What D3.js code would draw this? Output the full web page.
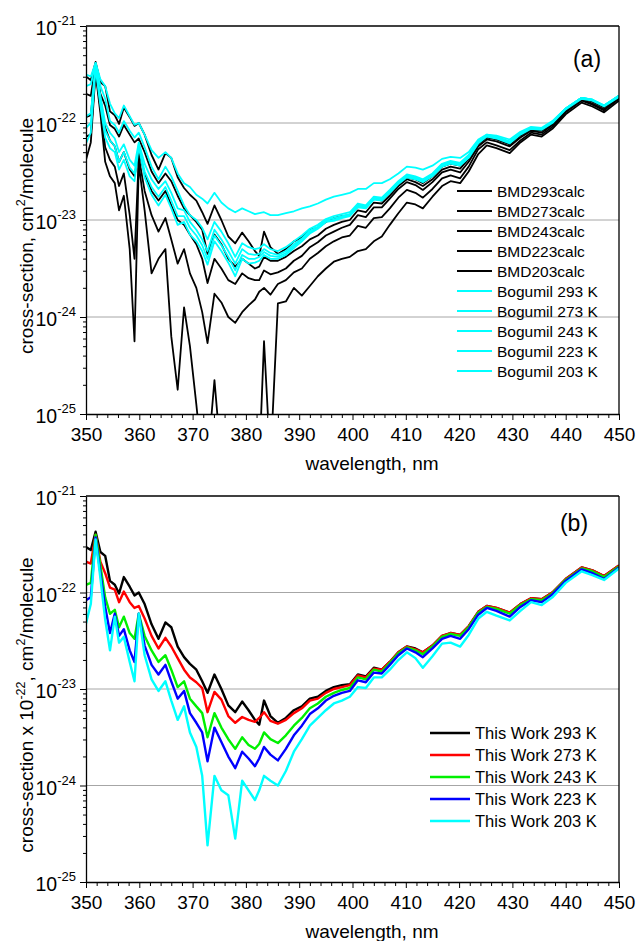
<!DOCTYPE html>
<html>
<head>
<meta charset="utf-8">
<script src="https://cdn.jsdelivr.net/npm/d3@7"></script>
<style>
  body { margin: 0; background: #fff; }
  svg { display: block; font-family: "Liberation Sans", Arial, sans-serif; }
</style>
</head>
<body>
<svg id="chart" width="636" height="941"></svg>
<script>
// Wavelength grid (nm) shared by every spectrum below
const wavelength = [350,350.9,351.8,352.7,353.6,354.5,355.4,356.2,357.1,358.2,
  359.1,359.9,361.0,362.3,363.6,364.9,366.0,367.2,368.4,369.5,
  370.7,371.8,372.8,374.1,375.4,376.7,378.0,379.3,380.5,381.7,
  382.5,383.4,384.6,386.0,387.5,389.0,390.5,392.0,393.5,395.0,
  396.5,398.0,399.5,401.0,402.5,404.0,405.5,407.0,408.6,410.2,
  411.8,413.2,415.0,416.8,418.4,420.2,421.8,423.6,425.2,427.0,
  429.5,431.5,433.5,435.5,437.5,440.0,443.0,445.0,447.2,450.0];

// Spectra are stored as log10(cross-section / cm^2 molecule^-1)
// Panel (a): BMD calculated spectra
const bmd293 = [-21.52,-21.56,-21.37,-21.58,-21.62,-21.88,-21.92,-22.01,-21.84,-21.94,
  -22.03,-22.00,-22.12,-22.33,-22.48,-22.31,-22.36,-22.56,-22.67,-22.74,
  -22.80,-22.92,-23.04,-22.85,-23.00,-23.17,-23.24,-23.13,-23.22,-23.32,
  -23.37,-23.12,-23.28,-23.35,-23.30,-23.22,-23.18,-23.10,-23.08,-23.02,
  -22.98,-22.96,-22.95,-22.85,-22.87,-22.78,-22.80,-22.72,-22.62,-22.56,
  -22.58,-22.62,-22.55,-22.45,-22.42,-22.44,-22.35,-22.20,-22.14,-22.16,
  -22.21,-22.12,-22.06,-22.07,-22.00,-21.86,-21.74,-21.77,-21.83,-21.72];
const bmd273 = [-21.70,-21.72,-21.40,-21.70,-21.82,-22.02,-22.06,-22.14,-22.02,-22.12,
  -22.20,-22.16,-22.30,-22.50,-22.62,-22.52,-22.60,-22.75,-22.88,-22.95,
  -23.02,-23.10,-23.35,-23.15,-23.25,-23.40,-23.48,-23.40,-23.45,-23.50,
  -23.48,-23.38,-23.42,-23.42,-23.38,-23.32,-23.27,-23.20,-23.16,-23.09,
  -23.05,-23.02,-23.00,-22.90,-22.92,-22.82,-22.83,-22.75,-22.65,-22.58,
  -22.61,-22.65,-22.58,-22.48,-22.45,-22.47,-22.37,-22.22,-22.15,-22.17,
  -22.22,-22.13,-22.07,-22.08,-22.01,-21.87,-21.75,-21.78,-21.84,-21.73];
const bmd243 = [-21.94,-21.92,-21.42,-21.75,-22.05,-22.18,-22.24,-22.40,-22.30,-22.48,
  -22.55,-22.30,-22.52,-22.70,-22.80,-22.70,-22.85,-23.00,-23.05,-23.15,
  -23.25,-23.40,-23.65,-23.40,-23.50,-23.62,-23.66,-23.55,-23.60,-23.62,
  -23.62,-23.52,-23.56,-23.54,-23.50,-23.42,-23.37,-23.28,-23.23,-23.16,
  -23.12,-23.08,-23.05,-22.95,-22.97,-22.87,-22.87,-22.78,-22.68,-22.61,
  -22.64,-22.69,-22.61,-22.51,-22.48,-22.51,-22.40,-22.24,-22.17,-22.19,
  -22.24,-22.15,-22.08,-22.10,-22.02,-21.88,-21.76,-21.80,-21.86,-21.74];
const bmd223 = [-22.14,-22.12,-21.45,-21.85,-22.25,-22.38,-22.45,-22.65,-22.52,-22.95,
  -23.40,-22.35,-22.70,-22.95,-23.12,-22.98,-23.20,-23.45,-23.30,-23.55,
  -23.70,-23.95,-24.27,-23.76,-23.85,-24.00,-24.06,-23.95,-23.88,-23.82,
  -23.74,-23.70,-23.77,-23.66,-23.62,-23.54,-23.50,-23.40,-23.34,-23.27,
  -23.22,-23.18,-23.16,-23.06,-23.08,-22.98,-22.97,-22.88,-22.77,-22.69,
  -22.72,-22.77,-22.68,-22.57,-22.54,-22.57,-22.45,-22.27,-22.20,-22.23,
  -22.28,-22.18,-22.10,-22.12,-22.04,-21.89,-21.77,-21.81,-21.87,-21.75];
const bmd203 = [-22.38,-22.20,-21.48,-21.90,-22.40,-22.55,-22.62,-22.90,-22.75,-23.30,
  -24.25,-22.42,-22.90,-23.55,-23.40,-23.30,-24.20,-24.75,-23.90,-24.30,
  -24.90,-25.50,-25.50,-24.65,-25.50,-25.50,-25.50,-25.50,-25.50,-25.50,
  -25.50,-24.25,-25.50,-23.86,-23.84,-23.70,-23.78,-23.68,-23.58,-23.50,
  -23.43,-23.40,-23.38,-23.32,-23.30,-23.22,-23.17,-23.05,-22.93,-22.82,
  -22.84,-22.88,-22.76,-22.65,-22.60,-22.62,-22.50,-22.32,-22.23,-22.26,
  -22.31,-22.20,-22.12,-22.14,-22.06,-21.91,-21.79,-21.83,-21.89,-21.77];

// Panel (a): Bogumil measured spectra
const bog293 = [-21.50,-21.52,-21.38,-21.55,-21.62,-21.80,-21.90,-21.95,-21.82,-21.93,
  -22.02,-22.00,-22.12,-22.28,-22.36,-22.30,-22.36,-22.52,-22.62,-22.66,
  -22.74,-22.78,-22.83,-22.72,-22.82,-22.88,-22.92,-22.88,-22.91,-22.94,
  -22.93,-22.92,-22.95,-22.95,-22.93,-22.91,-22.88,-22.86,-22.83,-22.79,
  -22.76,-22.74,-22.72,-22.68,-22.68,-22.62,-22.62,-22.58,-22.52,-22.45,
  -22.46,-22.48,-22.44,-22.37,-22.35,-22.36,-22.30,-22.17,-22.12,-22.13,
  -22.17,-22.09,-22.04,-22.05,-21.98,-21.85,-21.74,-21.76,-21.82,-21.72];
const bog273 = [-21.62,-21.60,-21.38,-21.62,-21.75,-21.98,-22.02,-22.10,-21.98,-22.08,
  -22.15,-22.10,-22.25,-22.45,-22.58,-22.45,-22.55,-22.70,-22.85,-22.95,
  -23.00,-23.08,-23.20,-23.02,-23.12,-23.24,-23.38,-23.24,-23.28,-23.30,
  -23.29,-23.25,-23.30,-23.32,-23.28,-23.22,-23.16,-23.09,-23.05,-22.99,
  -22.96,-22.94,-22.92,-22.83,-22.85,-22.76,-22.77,-22.69,-22.60,-22.53,
  -22.55,-22.58,-22.52,-22.42,-22.39,-22.41,-22.33,-22.18,-22.12,-22.14,
  -22.19,-22.10,-22.05,-22.06,-21.99,-21.85,-21.74,-21.76,-21.82,-21.72];
const bog243 = [-21.93,-21.90,-21.40,-21.72,-22.00,-22.10,-22.16,-22.30,-22.22,-22.38,
  -22.44,-22.20,-22.42,-22.58,-22.68,-22.60,-22.72,-22.88,-22.90,-23.02,
  -23.10,-23.20,-23.32,-23.10,-23.20,-23.32,-23.45,-23.30,-23.35,-23.36,
  -23.35,-23.30,-23.34,-23.36,-23.32,-23.25,-23.19,-23.11,-23.07,-23.00,
  -22.98,-22.96,-22.94,-22.85,-22.86,-22.77,-22.78,-22.70,-22.61,-22.54,
  -22.56,-22.59,-22.53,-22.43,-22.40,-22.42,-22.34,-22.19,-22.13,-22.15,
  -22.20,-22.11,-22.05,-22.06,-21.99,-21.85,-21.74,-21.76,-21.82,-21.72];
const bog223 = [-22.05,-22.00,-21.42,-21.78,-22.08,-22.18,-22.24,-22.40,-22.30,-22.46,
  -22.52,-22.22,-22.50,-22.66,-22.76,-22.66,-22.80,-22.96,-22.96,-23.08,
  -23.16,-23.26,-23.40,-23.16,-23.26,-23.38,-23.52,-23.36,-23.40,-23.40,
  -23.38,-23.33,-23.37,-23.38,-23.34,-23.27,-23.20,-23.13,-23.08,-23.01,
  -23.00,-22.97,-22.95,-22.86,-22.87,-22.78,-22.79,-22.71,-22.62,-22.55,
  -22.57,-22.60,-22.54,-22.44,-22.41,-22.43,-22.35,-22.20,-22.13,-22.15,
  -22.20,-22.11,-22.05,-22.06,-21.99,-21.85,-21.74,-21.76,-21.82,-21.72];
const bog203 = [-22.21,-22.10,-21.43,-21.82,-22.15,-22.26,-22.30,-22.48,-22.38,-22.55,
  -22.60,-22.24,-22.56,-22.74,-22.85,-22.74,-22.88,-23.05,-23.02,-23.15,
  -23.22,-23.32,-23.46,-23.22,-23.32,-23.44,-23.58,-23.40,-23.45,-23.44,
  -23.42,-23.36,-23.40,-23.40,-23.36,-23.29,-23.22,-23.14,-23.09,-23.02,
  -23.01,-22.98,-22.96,-22.87,-22.88,-22.79,-22.80,-22.72,-22.63,-22.56,
  -22.58,-22.61,-22.55,-22.45,-22.42,-22.44,-22.36,-22.21,-22.14,-22.16,
  -22.21,-22.12,-22.06,-22.07,-22.00,-21.86,-21.75,-21.77,-21.83,-21.73];

// Panel (b): spectra of this work
const tw293 = [-21.53,-21.56,-21.37,-21.58,-21.62,-21.88,-21.92,-22.01,-21.84,-21.94,
  -22.03,-22.00,-22.12,-22.33,-22.48,-22.31,-22.36,-22.56,-22.67,-22.74,
  -22.80,-22.92,-23.04,-22.85,-23.00,-23.17,-23.24,-23.13,-23.22,-23.32,
  -23.37,-23.12,-23.28,-23.35,-23.30,-23.22,-23.18,-23.10,-23.08,-23.02,
  -22.98,-22.96,-22.95,-22.85,-22.87,-22.78,-22.80,-22.72,-22.62,-22.56,
  -22.58,-22.62,-22.55,-22.45,-22.42,-22.44,-22.35,-22.20,-22.14,-22.16,
  -22.21,-22.12,-22.06,-22.07,-22.00,-21.86,-21.74,-21.77,-21.83,-21.72];
const tw273 = [-21.68,-21.70,-21.40,-21.68,-21.80,-21.95,-21.97,-22.10,-21.99,-22.10,
  -22.16,-22.14,-22.27,-22.45,-22.58,-22.47,-22.56,-22.68,-22.80,-22.88,
  -22.93,-22.99,-23.24,-23.03,-23.11,-23.28,-23.35,-23.29,-23.32,-23.34,
  -23.30,-23.24,-23.33,-23.36,-23.32,-23.25,-23.20,-23.12,-23.10,-23.04,
  -23.00,-22.98,-22.96,-22.86,-22.88,-22.79,-22.80,-22.72,-22.62,-22.56,
  -22.59,-22.62,-22.55,-22.45,-22.42,-22.44,-22.35,-22.20,-22.14,-22.16,
  -22.21,-22.12,-22.06,-22.07,-22.00,-21.86,-21.74,-21.77,-21.83,-21.72];
const tw243 = [-21.92,-21.90,-21.40,-21.72,-22.05,-22.22,-22.18,-22.36,-22.25,-22.42,
  -22.48,-22.22,-22.45,-22.60,-22.72,-22.65,-22.80,-22.98,-22.92,-23.10,
  -23.18,-23.25,-23.50,-23.25,-23.40,-23.52,-23.62,-23.50,-23.58,-23.62,
  -23.57,-23.45,-23.52,-23.56,-23.48,-23.38,-23.30,-23.20,-23.15,-23.08,
  -23.04,-23.01,-22.99,-22.88,-22.90,-22.80,-22.82,-22.73,-22.63,-22.57,
  -22.60,-22.64,-22.56,-22.46,-22.43,-22.45,-22.36,-22.21,-22.15,-22.17,
  -22.22,-22.13,-22.07,-22.08,-22.01,-21.87,-21.75,-21.78,-21.84,-21.73];
const tw223 = [-22.08,-22.05,-21.43,-21.80,-22.15,-22.42,-22.22,-22.45,-22.38,-22.60,
  -22.72,-22.22,-22.55,-22.75,-22.85,-22.75,-22.92,-23.10,-23.02,-23.25,
  -23.35,-23.45,-23.75,-23.40,-23.55,-23.70,-23.82,-23.65,-23.72,-23.80,
  -23.72,-23.60,-23.68,-23.74,-23.62,-23.48,-23.38,-23.26,-23.20,-23.12,
  -23.07,-23.04,-23.02,-22.91,-22.93,-22.83,-22.84,-22.75,-22.65,-22.58,
  -22.62,-22.67,-22.58,-22.48,-22.45,-22.48,-22.38,-22.23,-22.16,-22.19,
  -22.25,-22.15,-22.08,-22.10,-22.02,-21.88,-21.76,-21.80,-21.86,-21.74];
const tw203 = [-22.32,-22.12,-21.45,-21.85,-22.28,-22.60,-22.25,-22.52,-22.46,-22.72,
  -22.92,-22.22,-22.65,-22.90,-23.02,-22.92,-23.12,-23.32,-23.18,-23.45,
  -23.60,-23.90,-24.62,-23.90,-24.05,-24.10,-24.55,-23.95,-24.05,-24.15,
  -24.05,-23.90,-23.95,-24.00,-23.85,-23.65,-23.52,-23.38,-23.30,-23.22,
  -23.15,-23.12,-23.08,-22.98,-22.99,-22.88,-22.88,-22.80,-22.70,-22.62,
  -22.68,-22.78,-22.66,-22.53,-22.52,-22.56,-22.44,-22.27,-22.20,-22.24,
  -22.29,-22.19,-22.10,-22.13,-22.05,-21.90,-21.78,-21.82,-21.87,-21.75];

// Axis ticks
const xTicks = [350, 360, 370, 380, 390, 400, 410, 420, 430, 440, 450];
const yExponents = [-21, -22, -23, -24, -25];

const panels = [
  {
    top: 26, bottom: 414, tag: "(a)", tagX: 587, tagY: 67,
    yTitle: ["cross-section, cm", "2", "/molecule"], yTitleCenter: 236,
    legend: { x1: 457, x2: 492, tx: 497, y0: 191, dy: 20, size: 15.5, width: 2 },
    series: [
      { name: "BMD293calc", values: bmd293, color: "#000000", width: 1.8 },
      { name: "BMD273calc", values: bmd273, color: "#000000", width: 1.8 },
      { name: "BMD243calc", values: bmd243, color: "#000000", width: 1.8 },
      { name: "BMD223calc", values: bmd223, color: "#000000", width: 1.8 },
      { name: "BMD203calc", values: bmd203, color: "#000000", width: 1.8 },
      { name: "Bogumil 293 K", values: bog293, color: "#00ffff", width: 1.8 },
      { name: "Bogumil 273 K", values: bog273, color: "#00ffff", width: 1.8 },
      { name: "Bogumil 243 K", values: bog243, color: "#00ffff", width: 1.8 },
      { name: "Bogumil 223 K", values: bog223, color: "#00ffff", width: 1.8 },
      { name: "Bogumil 203 K", values: bog203, color: "#00ffff", width: 1.8 }
    ]
  },
  {
    top: 496, bottom: 882, tag: "(b)", tagX: 574, tagY: 531,
    yTitle: ["cross-section x 10", "-22", ", cm", "2", "/molecule"], yTitleCenter: 705,
    legend: { x1: 430, x2: 470, tx: 475, y0: 733, dy: 22, size: 16.5, width: 2.6 },
    series: [
      { name: "This Work 293 K", values: tw293, color: "#000000", width: 2.4 },
      { name: "This Work 273 K", values: tw273, color: "#ff0000", width: 2.4 },
      { name: "This Work 243 K", values: tw243, color: "#00f000", width: 2.4 },
      { name: "This Work 223 K", values: tw223, color: "#0000ff", width: 2.4 },
      { name: "This Work 203 K", values: tw203, color: "#00ffff", width: 2.4 }
    ]
  }
];

const svg = d3.select("#chart");
svg.append("rect").attr("width", 636).attr("height", 941).attr("fill", "#fff");

const left = 86, right = 619;
const x = d3.scaleLinear().domain([350, 450]).range([left, right]);

panels.forEach((p, pi) => {
  const y = d3.scaleLog().domain([1e-25, 1e-21]).range([p.bottom, p.top]);
  const g = svg.append("g");

  // horizontal grid at each decade
  g.selectAll("line.grid")
    .data(yExponents.filter(e => e > -25 && e < -21))
    .join("line")
    .attr("x1", left).attr("x2", right)
    .attr("y1", e => y(Math.pow(10, e))).attr("y2", e => y(Math.pow(10, e)))
    .attr("stroke", "#a6a6a6").attr("stroke-width", 1);

  // spectra
  const clipId = "clip" + pi;
  svg.append("clipPath").attr("id", clipId)
    .append("rect").attr("x", left).attr("y", p.top)
    .attr("width", right - left).attr("height", p.bottom - p.top);

  const line = d3.line()
    .x((d, i) => x(wavelength[i]))
    .y(d => y(Math.pow(10, d)))
    .curve(d3.curveLinear);

  g.append("g").attr("clip-path", `url(#${clipId})`)
    .selectAll("path")
    .data(p.series)
    .join("path")
    .attr("d", s => line(s.values))
    .attr("fill", "none")
    .attr("stroke", s => s.color)
    .attr("stroke-width", s => s.width)
    .attr("stroke-linejoin", "round");

  // frame: top and right
  g.append("line").attr("x1", left).attr("x2", right).attr("y1", p.top).attr("y2", p.top)
    .attr("stroke", "#000").attr("stroke-width", 1.3);
  g.append("line").attr("x1", right).attr("x2", right).attr("y1", p.top).attr("y2", p.bottom)
    .attr("stroke", "#000").attr("stroke-width", 1.3);

  // x axis: major and minor ticks
  const minorX = d3.range(352, 450, 2).filter(v => v % 10 !== 0);
  g.append("g").attr("transform", `translate(0,${p.bottom})`)
    .call(d3.axisBottom(x).tickValues(minorX).tickSize(4).tickFormat(""))
    .call(a => a.select(".domain").remove());
  const xa = g.append("g").attr("transform", `translate(0,${p.bottom})`)
    .call(d3.axisBottom(x).tickValues(xTicks).tickSize(6).tickSizeOuter(0).tickPadding(8));
  xa.select(".domain").attr("stroke-width", 1.3);
  xa.selectAll("text").attr("font-size", 19).attr("fill", "#000")
    .attr("font-family", "Liberation Sans, Arial, sans-serif");
  g.selectAll(".tick line").attr("stroke", "#000");

  // y axis: major and minor ticks
  const minorY = [];
  for (let e = -25; e < -21; e++) for (let m = 2; m <= 9; m++) minorY.push(m * Math.pow(10, e));
  g.append("g").attr("transform", `translate(${left},0)`)
    .call(d3.axisLeft(y).tickValues(minorY).tickSize(3).tickFormat(""))
    .call(a => a.select(".domain").remove());
  const ya = g.append("g").attr("transform", `translate(${left},0)`)
    .call(d3.axisLeft(y).tickValues(yExponents.map(e => Math.pow(10, e))).tickSize(6).tickSizeOuter(0).tickFormat(""));
  ya.select(".domain").attr("stroke-width", 1.3);

  // y tick labels as 10 with superscript exponent
  const yl = g.selectAll("text.ylab").data(yExponents).join("text")
    .attr("x", 76).attr("y", e => y(Math.pow(10, e)) + 9)
    .attr("text-anchor", "end").attr("font-size", 19.5);
  yl.append("tspan").text("10");
  yl.append("tspan").attr("dy", -10).attr("font-size", 13).text(e => String(e));

  // axis titles
  g.append("text").attr("x", 372).attr("y", p.bottom + 56)
    .attr("text-anchor", "middle").attr("font-size", 19).text("wavelength, nm");

  const yt = g.append("text")
    .attr("transform", `translate(33,${p.yTitleCenter}) rotate(-90)`)
    .attr("text-anchor", "middle").attr("font-size", 19);
  p.yTitle.forEach((part, i) => {
    const sup = (p.yTitle.length === 3 ? i === 1 : (i === 1 || i === 3));
    const ts = yt.append("tspan").text(part);
    if (sup) ts.attr("font-size", 12.5).attr("dy", -8);
    else if (i > 0) ts.attr("dy", 8);
  });

  // panel tag
  g.append("text").attr("x", p.tagX).attr("y", p.tagY)
    .attr("text-anchor", "middle").attr("font-size", 23).text(p.tag);

  // legend
  const L = p.legend;
  const lg = g.selectAll("g.leg").data(p.series).join("g")
    .attr("transform", (s, i) => `translate(0,${L.y0 + i * L.dy})`);
  lg.append("line").attr("x1", L.x1).attr("x2", L.x2)
    .attr("stroke", s => s.color).attr("stroke-width", L.width);
  lg.append("text").attr("x", L.tx).attr("y", L.size * 0.36)
    .attr("font-size", L.size).text(s => s.name);
});
</script>
</body>
</html>
